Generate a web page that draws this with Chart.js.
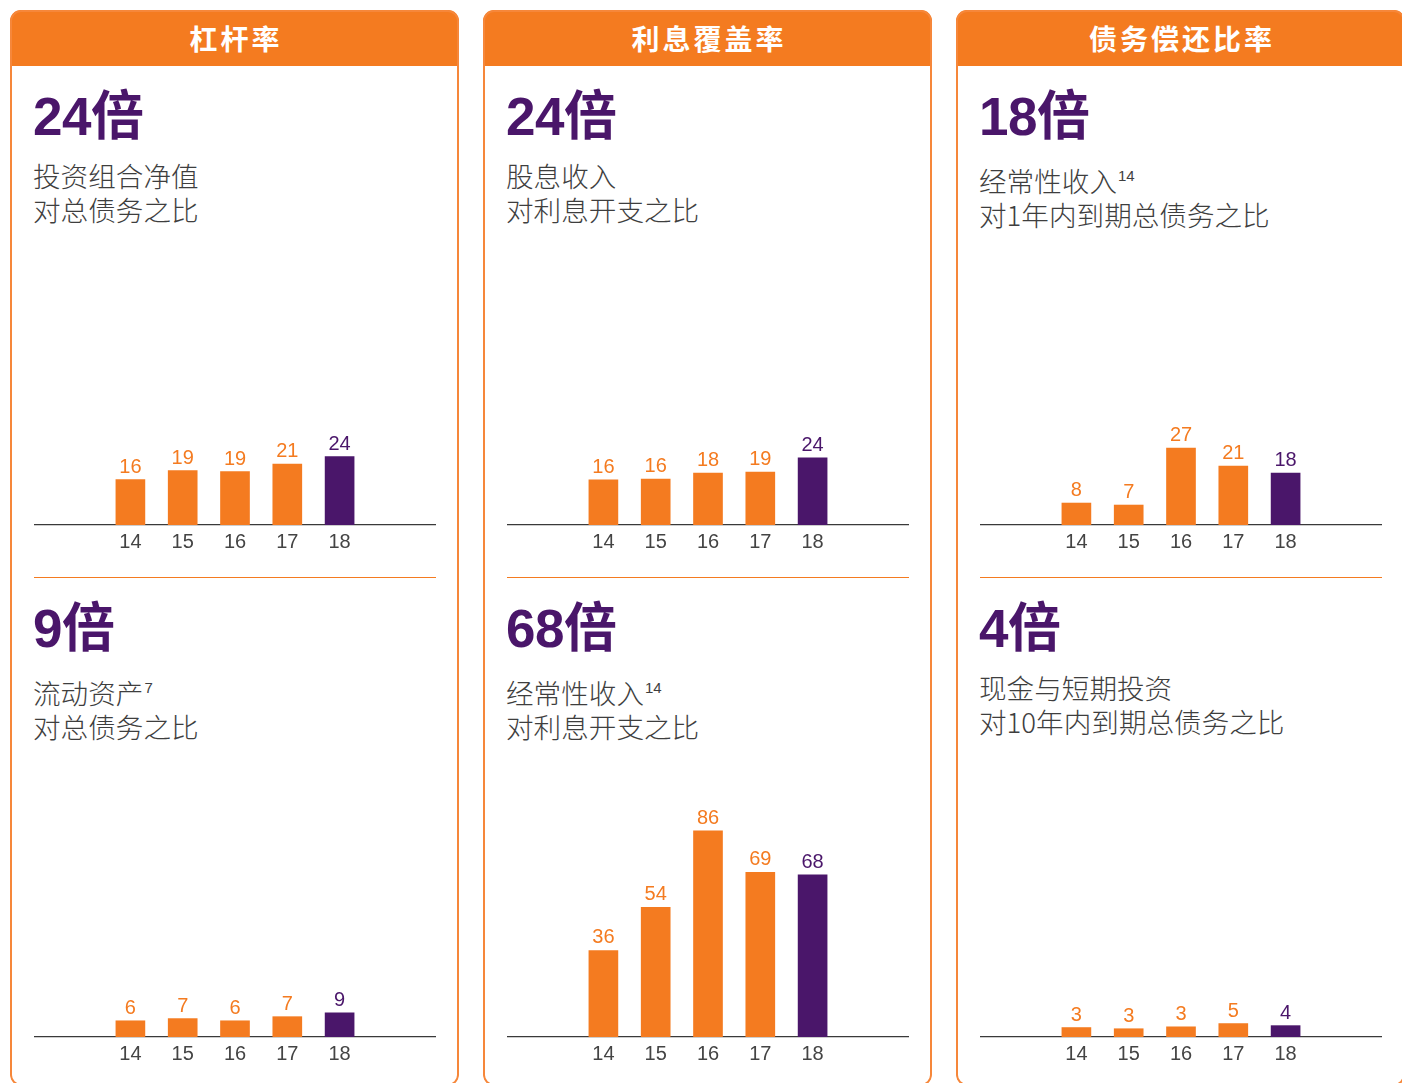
<!DOCTYPE html>
<html>
<head>
<meta charset="utf-8">
<script src="https://cdn.jsdelivr.net/npm/chart.js@4.4.1/dist/chart.umd.min.js"></script>
<style>
  html, body { margin:0; padding:0; background:#fff; }
  body { width:1402px; height:1083px; overflow:hidden; position:relative; }
  .panel { position:absolute; top:10px; width:449px; height:1076px; border-radius:11px; overflow:hidden; background:#fff; }
  .frame { position:absolute; left:0; top:0; right:0; bottom:0; border:2px solid #f6873a; border-radius:11px; box-sizing:border-box; pointer-events:none; }
  .head { position:absolute; left:0; top:0; width:100%; height:56px; background:#f47b20; color:#fff;
          font-family:"Noto Sans CJK SC", sans-serif; font-weight:700; font-size:28px; line-height:56px;
          text-align:center; letter-spacing:3px; padding-left:3px; box-sizing:border-box; }
  .big { position:absolute; left:23px; color:#4a166a; font-family:"Liberation Sans", "Noto Sans CJK SC", sans-serif;
         font-weight:700; font-size:53px; line-height:53px; white-space:nowrap; letter-spacing:-0.5px; }
  .sub { position:absolute; left:23px; color:#3e3e3e; font-family:"Noto Sans CJK SC", sans-serif; font-weight:300;
         font-size:27.6px; line-height:34px; white-space:nowrap; }
  .sub sup { font-family:"Liberation Sans", sans-serif; font-size:15px; position:relative; top:-4px; vertical-align:top; margin-left:1px; }
  .sep { position:absolute; left:24px; width:402px; height:1px; background:#f47b20; top:567px; }
  canvas { position:absolute; left:24px; }
</style>
</head>
<body>
<script>
// ---- data ----
const years = [14, 15, 16, 17, 18];
const panelTitles = ['杠杆率', '利息覆盖率', '债务偿还比率'];
const headlines = ['24倍', '9倍', '24倍', '68倍', '18倍', '4倍'];
const subtitles = [
  ['投资组合净值', '对总债务之比'],
  ['流动资产<sup>7</sup>', '对总债务之比'],
  ['股息收入', '对利息开支之比'],
  ['经常性收入<sup>14</sup>', '对利息开支之比'],
  ['经常性收入<sup>14</sup>', '对1年内到期总债务之比'],
  ['现金与短期投资', '对10年内到期总债务之比']
];
const leverageRatio        = [15.9, 19.05, 18.7, 21.4, 24.0];
const liquidAssetsRatio    = [5.9, 6.7, 5.9, 7.4, 8.8];
const dividendCoverRatio   = [15.8, 16.1, 18.2, 18.6, 23.6];
const recurringCoverRatio  = [36.2, 54.3, 86.3, 68.9, 67.8];
const oneYearDebtRatio     = [7.7, 7.0, 27.0, 20.7, 18.2];
const tenYearDebtRatio     = [3.2, 2.8, 3.45, 4.55, 3.85];
const chartSeries = [leverageRatio, liquidAssetsRatio, dividendCoverRatio, recurringCoverRatio, oneYearDebtRatio, tenYearDebtRatio];

// ---- styles ----
const ORANGE = '#f47b20', PURPLE = '#4a166a';
const panelLefts = [10, 483, 956];
const yMaxes = [49.1, 91, 49.1, 104.6, 49.1, 84.7];
const subTops = [[148, 665], [148, 665], [153, 660]];
const bigTops = [80, 592];
const digitFont = '"Liberation Sans", Arial, sans-serif';

const valueLabels = {
  id: 'valueLabels',
  afterDatasetsDraw(chart) {
    const ctx = chart.ctx;
    const meta = chart.getDatasetMeta(0);
    const ds = chart.data.datasets[0];
    ctx.save();
    ctx.font = '20px ' + digitFont;
    ctx.textAlign = 'center';
    ctx.textBaseline = 'alphabetic';
    meta.data.forEach((bar, i) => {
      ctx.fillStyle = ds.backgroundColor[i];
      ctx.fillText(String(Math.round(ds.data[i].y)), bar.x, bar.y - 7);
    });
    ctx.restore();
  }
};

function makeChart(canvas, values, yMax) {
  const colors = values.map((v, i) => i === values.length - 1 ? PURPLE : ORANGE);
  new Chart(canvas, {
    type: 'bar',
    data: {
      datasets: [{
        data: years.map((x, i) => ({ x: x, y: values[i] })),
        backgroundColor: colors,
        borderWidth: 0,
        barThickness: 29
      }]
    },
    options: {
      responsive: false,
      animation: false,
      layout: { padding: 0 },
      plugins: { legend: { display: false }, tooltip: { enabled: false } },
      scales: {
        x: {
          type: 'linear', min: 12.157, max: 19.843, offset: false,
          grid: { display: false, drawTicks: false },
          border: { display: true, color: '#3a3a3a', width: 1.3 },
          ticks: { color: '#444', font: { size: 20, family: digitFont }, padding: 5, callback: v => String(v) },
          afterBuildTicks: axis => { axis.ticks = years.map(v => ({ value: v })); },
          afterFit: axis => { axis.height = 30; }
        },
        y: { display: false, min: 0, max: yMax }
      }
    },
    plugins: [valueLabels]
  });
}

panelLefts.forEach((left, p) => {
  const panel = document.createElement('div');
  panel.className = 'panel';
  panel.style.left = left + 'px';
  document.body.appendChild(panel);

  const head = document.createElement('div');
  head.className = 'head';
  head.textContent = panelTitles[p];
  panel.appendChild(head);

  const sep = document.createElement('div');
  sep.className = 'sep';
  panel.appendChild(sep);

  for (let r = 0; r < 2; r++) {
    const k = p * 2 + r;
    const big = document.createElement('div');
    big.className = 'big';
    big.style.top = bigTops[r] + 'px';
    big.textContent = headlines[k];
    panel.appendChild(big);

    const sub = document.createElement('div');
    sub.className = 'sub';
    sub.style.top = subTops[p][r] + 'px';
    sub.innerHTML = subtitles[k].join('<br>');
    panel.appendChild(sub);

    const cv = document.createElement('canvas');
    const h = r === 0 ? 170 : 280;
    cv.width = 402; cv.height = h;
    cv.style.top = (r === 0 ? 375 : 777) + 'px';
    cv.style.width = '402px'; cv.style.height = h + 'px';
    panel.appendChild(cv);
    makeChart(cv, chartSeries[k], yMaxes[k]);
  }

  const frame = document.createElement('div');
  frame.className = 'frame';
  panel.appendChild(frame);
});
</script>
</body>
</html>
